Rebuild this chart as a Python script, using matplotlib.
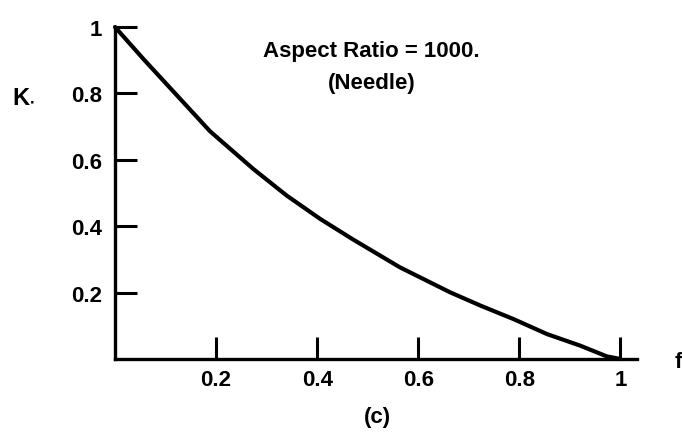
import matplotlib
matplotlib.use("Agg")
import matplotlib.pyplot as plt

# Volume fraction f and normalised conductivity K* for needle-shaped inclusions
f_vals = [0.0, 0.056, 0.188, 0.274, 0.34, 0.406, 0.47, 0.564, 0.663, 0.723, 0.789, 0.855, 0.921, 0.973, 1.0]
k_vals = [1.0, 0.904, 0.686, 0.572, 0.492, 0.422, 0.361, 0.276, 0.201, 0.161, 0.120, 0.075, 0.040, 0.008, 0.0]

x_ticks = [0.2, 0.4, 0.6, 0.8, 1.0]
x_tick_labels = ["0.2", "0.4", "0.6", "0.8", "1"]
y_ticks = [0.2, 0.4, 0.6, 0.8, 1.0]
y_tick_labels = ["0.2", "0.4", "0.6", "0.8", "1"]

plt.rcParams["font.family"] = ["Liberation Sans", "DejaVu Sans"]
plt.rcParams["font.weight"] = "bold"
plt.rcParams["mathtext.fontset"] = "custom"
plt.rcParams["mathtext.rm"] = "Liberation Sans:bold"
plt.rcParams["mathtext.it"] = "Liberation Sans:bold"
plt.rcParams["mathtext.bf"] = "Liberation Sans:bold"

W, H = 682, 439
fig = plt.figure(figsize=(W / 100, H / 100), dpi=100)
ax = fig.add_axes([115 / W, (H - 360) / H, (637 - 115) / W, 332 / H])

ax.plot(f_vals, k_vals, color="black", lw=3.0, clip_on=False,
        solid_capstyle="round", solid_joinstyle="round")

ax.set_xlim(0, 1.033)
ax.set_ylim(0, 1.0)

for side in ("top", "right"):
    ax.spines[side].set_visible(False)
for side in ("left", "bottom"):
    ax.spines[side].set_linewidth(2.4)
    ax.spines[side].set_capstyle("projecting")

ax.set_xticks(x_ticks)
ax.set_xticklabels(x_tick_labels)
ax.set_yticks(y_ticks)
ax.set_yticklabels(y_tick_labels)
ax.tick_params(axis="both", direction="in", length=16, width=2.2, labelsize=16, colors="black")
ax.tick_params(axis="x", pad=7)
ax.tick_params(axis="y", pad=9)

fig.text(12 / W, 1 - 96 / H, r"K$_{\bullet}$", fontsize=17, ha="left", va="center")
fig.text(675 / W, 1 - 363 / H, "f", fontsize=16, ha="left", va="center")
fig.text(371 / W, 1 - 52 / H, "Aspect Ratio = 1000.", fontsize=16, ha="center", va="center")
fig.text(372 / W, 1 - 84 / H, "(Needle)", fontsize=16, ha="center", va="center")
fig.text(377 / W, 1 - 418 / H, "(c)", fontsize=16, ha="center", va="center")

fig.savefig("out.png", dpi=100)
